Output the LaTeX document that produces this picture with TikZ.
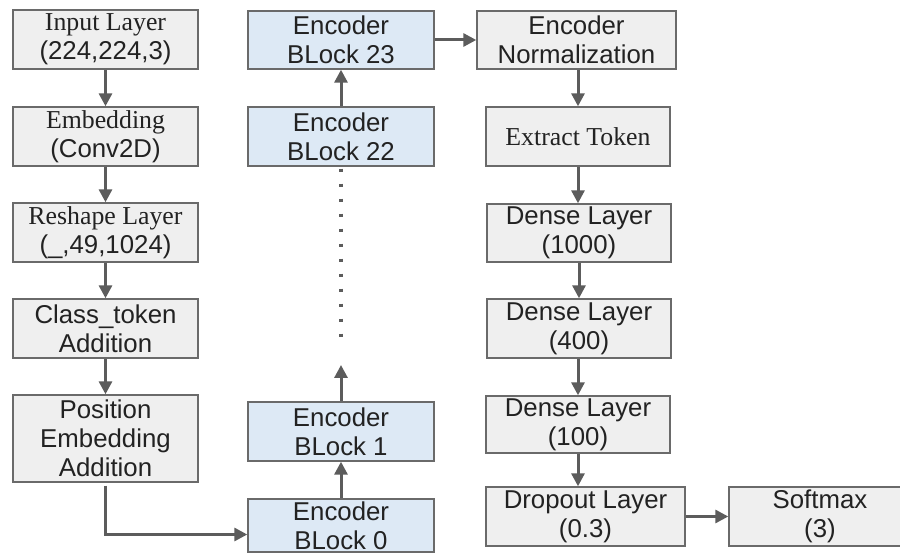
\documentclass[tikz,border=0pt]{standalone}
\usepackage{fontspec}
\setmainfont{Liberation Serif}
\setsansfont{Liberation Sans}
\usetikzlibrary{arrows.meta}
\definecolor{boxgray}{HTML}{EFEFEF}
\definecolor{boxblue}{HTML}{DDE9F5}
\definecolor{bordergray}{HTML}{6A6A6A}
\definecolor{arrowgray}{HTML}{5C5C5C}
\definecolor{textdark}{HTML}{222222}
\tikzset{
  layerbox/.style={draw=bordergray, line width=1.4pt, fill=boxgray, align=center, inner sep=0pt,
    text=textdark, font=\fontsize{25.8}{29}\selectfont\sffamily},
  encbox/.style={layerbox, fill=boxblue},
  arr/.style={draw=arrowgray, line width=3pt, -{Triangle[length=13pt,width=13pt]}},
  dotline/.style={draw=arrowgray, line width=3.5pt, dash pattern=on 3.5pt off 11.5pt}
}
\begin{document}
\begin{tikzpicture}[x=1pt,y=-1pt]
\useasboundingbox (0,0) rectangle (900,553);
\clip (0,0) rectangle (900,553);
\fill[white] (0,0) rectangle (900,553);
% left column
\node[layerbox, minimum width=185, minimum height=59] (inl) at (105.5,39.5) {{\rmfamily Input Layer}\\(224,224,3)};
\node[layerbox, minimum width=185, minimum height=59] (emb) at (105.5,136.5) {{\rmfamily Embedding}\\(Conv2D)};
\node[layerbox, minimum width=185, minimum height=59] (resh) at (105.5,232.5) {{\rmfamily Reshape Layer}\\(\_,49,1024)};
\node[layerbox, minimum width=185, minimum height=59] (cls) at (105.5,328.5) {Class\_token\\Addition};
\node[layerbox, minimum width=185, minimum height=87] (pos) at (105.5,438.5) {Position\\Embedding\\Addition};
% encoder column
\node[encbox, minimum width=186, minimum height=58] (b23) at (341,40) {Encoder\\BLock 23};
\node[encbox, minimum width=186, minimum height=59] (b22) at (341,136.5) {Encoder\\BLock 22};
\node[encbox, minimum width=186, minimum height=59] (b1) at (341,431.5) {Encoder\\BLock 1};
\node[encbox, minimum width=186, minimum height=53] (b0) at (341,525.5) {Encoder\\BLock 0};
% right column
\node[layerbox, minimum width=199, minimum height=58] (norm) at (576.5,40) {Encoder\\Normalization};
\node[layerbox, minimum width=184, minimum height=59] (ext) at (578,136.5) {\rmfamily Extract Token};
\node[layerbox, minimum width=184, minimum height=58] (d1000) at (579,233) {Dense Layer\\(1000)};
\node[layerbox, minimum width=184, minimum height=59] (d400) at (579,328.5) {Dense Layer\\(400)};
\node[layerbox, minimum width=184, minimum height=57] (d100) at (578,424.5) {Dense Layer\\(100)};
\node[layerbox, minimum width=199, minimum height=59] (drop) at (585.5,516.5) {Dropout Layer\\(0.3)};
\node[layerbox, minimum width=182, minimum height=59] (soft) at (820,516.5) {Softmax\\(3)};
% coordinates
\coordinate (dotend) at (341,345);
\coordinate (uptip) at (341,365);
% connectors
\draw[arr] (inl) -- (emb);
\draw[arr] (emb) -- (resh);
\draw[arr] (resh) -- (cls);
\draw[arr] (cls) -- (pos);
\draw[arr] ([yshift=-3pt]pos.south) |- ([yshift=-9pt]b0.west);
\draw[arr] (b0) -- (b1);
\draw[arr] (b1) -- (uptip);
\draw[dotline] ([yshift=-2pt]b22.south) -- (dotend);
\draw[arr] (b22) -- (b23);
\draw[arr] (b23) -- (norm);
\draw[arr] (norm.south -| ext) -- (ext);
\draw[arr] (ext) -- (ext |- d1000.north);
\draw[arr] (d1000) -- (d400);
\draw[arr] (d400.south -| d100) -- (d100);
\draw[arr] (d100) -- (d100 |- drop.north);
\draw[arr] (drop) -- (soft);
\end{tikzpicture}
\end{document}
